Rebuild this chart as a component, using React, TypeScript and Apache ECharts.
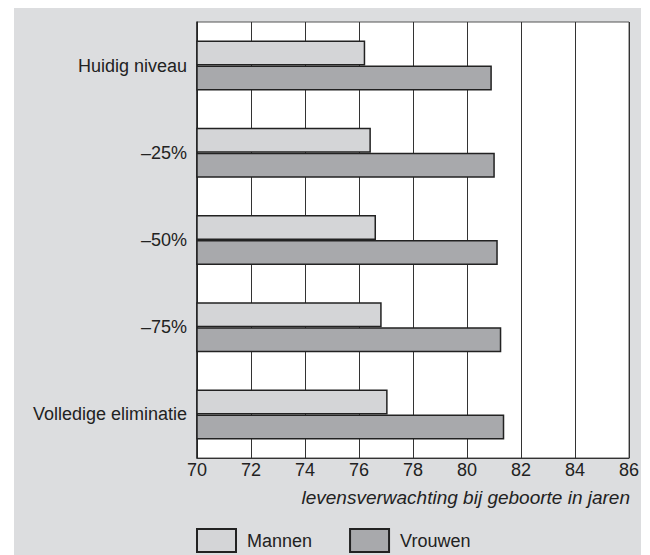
import React, { useEffect, useRef } from "react";
import * as echarts from "echarts";

const categories = ["Huidig niveau", "–25%", "–50%", "–75%", "Volledige eliminatie"];
const mannen = [76.23, 76.44, 76.63, 76.84, 77.06];
const vrouwen = [80.92, 81.03, 81.14, 81.27, 81.38];
const xTicks = { min: 70, max: 86, interval: 2 };
const xTitle = "levensverwachting bij geboorte in jaren";
const seriesNames = ["Mannen", "Vrouwen"];

const FONT = "'Liberation Sans', Arial, Helvetica, sans-serif";

export default function App() {
  const ref = useRef<HTMLDivElement>(null);
  useEffect(() => {
    if (!ref.current) return;
    const chart = echarts.init(ref.current, undefined, { renderer: "svg" });
    chart.setOption({
      animation: false,
      backgroundColor: "#ffffff",
      textStyle: { fontFamily: FONT },
      graphic: [
        {
          type: "rect",
          z: -10,
          silent: true,
          shape: { x: 14, y: 8, width: 627, height: 547 },
          style: { fill: "#dcdddf" },
        },
        {
          type: "text",
          x: 630,
          y: 497,
          style: {
            text: xTitle,
            fill: "#222",
            font: `italic 19px ${FONT}`,
            align: "right",
            verticalAlign: "middle",
          },
        },
      ],
      grid: {
        left: 197,
        top: 22,
        width: 432,
        height: 436,
        show: true,
        backgroundColor: "#ffffff",
        borderColor: "#555",
        borderWidth: 1,
        containLabel: false,
      },
      legend: {
        data: seriesNames,
        left: 191,
        top: 523,
        itemWidth: 39,
        itemHeight: 23,
        itemGap: 37,
        icon: "rect",
        textStyle: { fontSize: 18, color: "#222", fontFamily: FONT, padding: [0, 0, 0, 6] },
      },
      xAxis: {
        type: "value",
        min: xTicks.min,
        max: xTicks.max,
        interval: xTicks.interval,
        axisLine: { show: true, lineStyle: { color: "#333", width: 1 } },
        axisTick: { show: false },
        axisLabel: { fontSize: 18, color: "#222", margin: 3, fontFamily: FONT },
        splitLine: { show: true, lineStyle: { color: "#333", width: 1 } },
      },
      yAxis: {
        type: "category",
        data: categories,
        inverse: true,
        axisLine: { show: true, lineStyle: { color: "#222", width: 1.5 } },
        axisTick: { show: false },
        axisLabel: { fontSize: 18, color: "#222", margin: 10, fontFamily: FONT },
        splitLine: { show: false },
      },
      series: [
        {
          name: seriesNames[0],
          type: "bar",
          data: mannen,
          barWidth: 25,
          barGap: "0%",
          itemStyle: { color: "#d4d5d7", borderColor: "#222", borderWidth: 1.5 },
        },
        {
          name: seriesNames[1],
          type: "bar",
          data: vrouwen,
          barWidth: 25,
          barGap: "0%",
          itemStyle: { color: "#a8a9ac", borderColor: "#222", borderWidth: 1.5 },
        },
      ],
    });
    return () => chart.dispose();
  }, []);
  return (
    <div
      ref={ref}
      style={{ position: "absolute", left: 0, top: 0, width: 650, height: 555 }}
    />
  );
}
